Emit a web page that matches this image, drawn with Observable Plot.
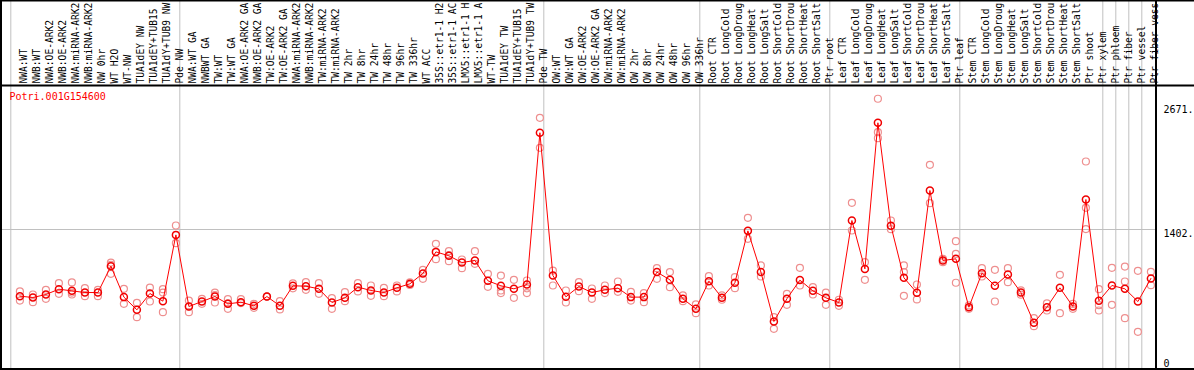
<!DOCTYPE html>
<html><head><meta charset="utf-8">
<script src="https://cdn.jsdelivr.net/npm/d3@7"></script>
<script src="https://cdn.jsdelivr.net/npm/@observablehq/plot@0.6"></script>
<style>
html,body{margin:0;padding:0;background:#fff;}
#chart svg{display:block;}
</style></head><body><div id="chart"></div>
<script>
const title = "Potri.001G154600";
const labels = [
  "NWA:WT","NWB:WT","NWA:OE-ARK2","NWB:OE-ARK2","NWA:miRNA-ARK2","NWB:miRNA-ARK2","NW 0hr","WT H2O","WT-NW","TUA1dEY NW","TUA1dEY+TUB15","TUA1dY+TUB9 NW","Pde NW",
  "NWA:WT GA","NWBWT GA","TW:WT","TW:WT GA","NWA:OE-ARK2 GA","NWB:OE-ARK2 GA","TW:OE-ARK2","TW:OE-ARK2 GA","NWA:miRNA-ARK2","NWB:miRNA-ARK2","TW:miRNA-ARK2","TW:miRNA-ARK2","TW 2hr","TW 8hr","TW 24hr","TW 48hr","TW 96hr","TW 336hr","WT ACC","35S::etr1-1 H2","35S::etr1-1 AC","LMX5::etr1-1 H","LMX5::etr1-1 A","WT-TW","TUA1dEY TW","TUA1dEY+TUB15","TUA1dY+TUB9 TW","Pde TW",
  "OW:WT","OW:WT GA","OW:OE-ARK2","OW:OE-ARK2 GA","OW:miRNA-ARK2","OW:miRNA-ARK2","OW 2hr","OW 8hr","OW 24hr","OW 48hr","OW 96hr","OW 336hr",
  "Root CTR","Root LongCold","Root LongDroug","Root LongHeat","Root LongSalt","Root ShortCold","Root ShortDrou","Root ShortHeat","Root ShortSalt","Ptr root",
  "Leaf CTR","Leaf LongCold","Leaf LongDroug","Leaf LongHeat","Leaf LongSalt","Leaf ShortCold","Leaf ShortDrou","Leaf ShortHeat","Leaf ShortSalt","Ptr leaf",
  "Stem CTR","Stem LongCold","Stem LongDroug","Stem LongHeat","Stem LongSalt","Stem ShortCold","Stem ShortDrou","Stem ShortHeat","Stem ShortSalt","Ptr shoot","Ptr xylem",
  "Ptr phloem","Ptr fiber","Ptr vessel","Ptr fiber vess"
];
const groupStarts = [0,13,41,53,63,73,84,85,86,87];
const means = [
  720,706,737,791,774,757,757,1027,710,580,747,669,1347,
  614,665,716,641,658,621,716,621,826,822,795,655,703,812,778,757,805,846,952,1173,1133,1064,1085,877,826,795,839,2392,
  931,713,819,757,785,802,710,710,966,887,693,590,
  873,703,857,1388,966,461,693,884,774,703,
  655,1494,999,2494,1440,908,754,1801,1085,1102,
  607,955,826,942,757,447,607,805,614,1709,672,
  829,795,665,901
];
const reps = [
  [768,675],[737,658],[785,693],[853,744],[860,737,757],[802,720],[785,720],[1064,948,1040],[795,641],[652,505],[808,665],[791,757,556],[1443,1262],
  [675,556,614],[693,641],[757,655,730],[689,590,645],[689,649],[641,600],[716,716],[669,584],[850,800],[863,785],[853,744],[699,590],[761,669],[853,768],[829,723],[805,720],[829,768],[860,835],[989,897],[1255,1098],[1180,1078,1140],[1095,1006],[1180,1051],[948,815],[931,751,778],[887,703],[880,751,800],[2545,2238],
  [982,829],[778,655],[863,771],[798,693],[829,751],[870,764],[764,675],[751,658],[1006,897],[966,812],[727,669],[635,546],
  [924,829],[727,683],[914,802],[1522,1307],[1034,921],[505,386],[744,631],[1010,829],[812,737],[757,631],
  [683,621],[1675,1392],[1068,887],[2740,2398,2337],[1494,1405],[1034,966,723],[839,686],[2064,1671],[1102,1068],[1283,1153,857],
  [625,590],[1006,921],[989,665],[1006,863],[780,735],[495,413],[645,573],[938,546],[640,590],[2098,1624,1406],[791,628,573],
  [1010,631],[1023,870,495],[979,355],[969,832]
];
const yTickValues = [2671, 1402];
const yTickLabels = ["2671.", "1402."];
const yZeroLabel = "0";
const gridValue = 1402;

const offset = 0.7;
const meanData = means.map((v, i) => ({i: i + offset, v}));
const repData = reps.flatMap((a, i) => a.map(v => ({i: i + offset, v})));
const labelData = labels.map((t, i) => ({i: i + offset, t}));
const tickData = yTickValues.map((v, k) => ({v, t: yTickLabels[k]}));

const W = 1194, H = 370;
const plot = Plot.plot({
  width: W, height: H,
  marginTop: 0, marginBottom: 1, marginLeft: 1, marginRight: 38,
  style: {fontFamily: "'DejaVu Sans Mono', monospace", fontSize: "10px", background: "#fff", overflow: "hidden", color: "black"},
  x: {domain: [0, 88], range: [10.3, 1154.3], axis: null},
  y: {domain: [0, 2671], range: [366, 105], axis: null},
  marks: [
    Plot.ruleY([gridValue], {stroke: "#c0c0c0", strokeWidth: 1}),
    Plot.ruleX(groupStarts, {x: d => d, stroke: "#c0c0c0", strokeWidth: 1}),
    Plot.text(labelData, {x: "i", text: "t", frameAnchor: "top", dy: 83, rotate: -90, textAnchor: "start", fill: "black", fontSize: 9.6}),
    Plot.text([title], {text: d => d, frameAnchor: "top-left", dx: 8, dy: 92, lineAnchor: "top", textAnchor: "start", fill: "red"}),
    Plot.text(tickData, {y: "v", text: "t", frameAnchor: "right", dx: 7, textAnchor: "start", lineAnchor: "top", fill: "black"}),
    Plot.text([yZeroLabel], {y: () => 0, text: d => d, frameAnchor: "right", dx: 7, textAnchor: "start", lineAnchor: "bottom", fill: "black"}),
    Plot.dot(repData, {x: "i", y: "v", r: 3.5, stroke: "#ee8f8f", strokeWidth: 1.2, fill: "none"}),
    Plot.line(meanData, {x: "i", y: "v", stroke: "red", strokeWidth: 1}),
    Plot.dot(meanData, {x: "i", y: "v", r: 3.5, stroke: "#f00000", strokeWidth: 1.5, fill: "none"})
  ]
});
document.getElementById("chart").appendChild(plot);

// decorative borders
const svg = d3.select(plot);
const border = [
  [0, 0.5, W, 0.5], [0, 85.5, W, 85.5], [0, 369, W, 369],
  [1, 0, 1, H], [1156, 0, 1156, H]
];
svg.append("g").selectAll("line").data(border).join("line")
  .attr("x1", d => d[0]).attr("y1", d => d[1]).attr("x2", d => d[2]).attr("y2", d => d[3])
  .attr("stroke", "black").attr("stroke-width", 2);
</script>
</body></html>
